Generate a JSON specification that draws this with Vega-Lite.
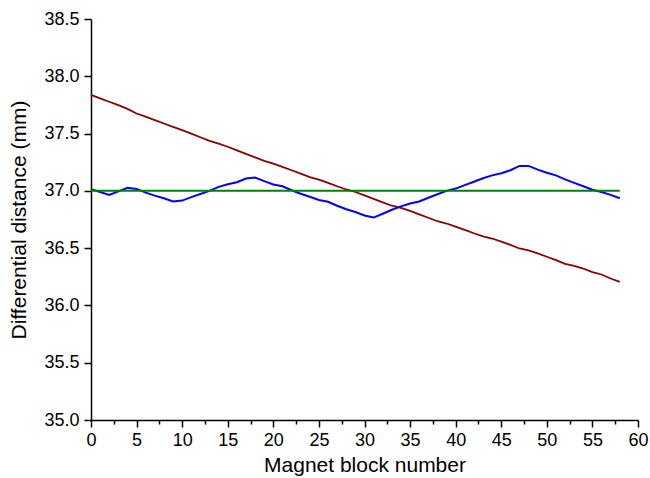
{
  "$schema": "https://vega.github.io/schema/vega-lite/v6.json",
  "width": 547,
  "height": 401,
  "autosize": {"type": "none"},
  "padding": {"left": 91, "top": 19, "right": 12, "bottom": 58},
  "background": "white",
  "config": {
    "view": {"stroke": null},
    "font": "Liberation Sans",
    "axis": {
      "grid": false,
      "domainColor": "black",
      "domainWidth": 1.5,
      "tickColor": "black",
      "tickWidth": 1.5,
      "labelColor": "black",
      "labelFont": "Liberation Sans",
      "labelFontSize": 18,
      "titleFont": "Liberation Sans",
      "titleFontSize": 21,
      "titleFontWeight": "normal",
      "titleColor": "black"
    }
  },
  "data": {
    "values": [
      {"block": 0, "red": 37.837, "blue": 37.015, "green": 37.0},
      {"block": 1, "red": 37.808, "blue": 36.99, "green": 37.0},
      {"block": 2, "red": 37.778, "blue": 36.965, "green": 37.0},
      {"block": 3, "red": 37.748, "blue": 36.995, "green": 37.0},
      {"block": 4, "red": 37.715, "blue": 37.026, "green": 37.0},
      {"block": 5, "red": 37.675, "blue": 37.017, "green": 37.0},
      {"block": 6, "red": 37.648, "blue": 36.985, "green": 37.0},
      {"block": 7, "red": 37.618, "blue": 36.958, "green": 37.0},
      {"block": 8, "red": 37.588, "blue": 36.935, "green": 37.0},
      {"block": 9, "red": 37.558, "blue": 36.907, "green": 37.0},
      {"block": 10, "red": 37.53, "blue": 36.915, "green": 37.0},
      {"block": 11, "red": 37.5, "blue": 36.945, "green": 37.0},
      {"block": 12, "red": 37.468, "blue": 36.972, "green": 37.0},
      {"block": 13, "red": 37.436, "blue": 37.0, "green": 37.0},
      {"block": 14, "red": 37.412, "blue": 37.035, "green": 37.0},
      {"block": 15, "red": 37.385, "blue": 37.058, "green": 37.0},
      {"block": 16, "red": 37.354, "blue": 37.075, "green": 37.0},
      {"block": 17, "red": 37.323, "blue": 37.108, "green": 37.0},
      {"block": 18, "red": 37.292, "blue": 37.116, "green": 37.0},
      {"block": 19, "red": 37.262, "blue": 37.085, "green": 37.0},
      {"block": 20, "red": 37.238, "blue": 37.055, "green": 37.0},
      {"block": 21, "red": 37.21, "blue": 37.04, "green": 37.0},
      {"block": 22, "red": 37.18, "blue": 37.005, "green": 37.0},
      {"block": 23, "red": 37.15, "blue": 36.975, "green": 37.0},
      {"block": 24, "red": 37.12, "blue": 36.948, "green": 37.0},
      {"block": 25, "red": 37.098, "blue": 36.92, "green": 37.0},
      {"block": 26, "red": 37.07, "blue": 36.905, "green": 37.0},
      {"block": 27, "red": 37.04, "blue": 36.87, "green": 37.0},
      {"block": 28, "red": 37.012, "blue": 36.84, "green": 37.0},
      {"block": 29, "red": 36.99, "blue": 36.815, "green": 37.0},
      {"block": 30, "red": 36.96, "blue": 36.785, "green": 37.0},
      {"block": 31, "red": 36.93, "blue": 36.767, "green": 37.0},
      {"block": 32, "red": 36.9, "blue": 36.8, "green": 37.0},
      {"block": 33, "red": 36.87, "blue": 36.835, "green": 37.0},
      {"block": 34, "red": 36.852, "blue": 36.865, "green": 37.0},
      {"block": 35, "red": 36.825, "blue": 36.89, "green": 37.0},
      {"block": 36, "red": 36.795, "blue": 36.907, "green": 37.0},
      {"block": 37, "red": 36.765, "blue": 36.94, "green": 37.0},
      {"block": 38, "red": 36.735, "blue": 36.97, "green": 37.0},
      {"block": 39, "red": 36.715, "blue": 37.0, "green": 37.0},
      {"block": 40, "red": 36.688, "blue": 37.02, "green": 37.0},
      {"block": 41, "red": 36.66, "blue": 37.05, "green": 37.0},
      {"block": 42, "red": 36.63, "blue": 37.08, "green": 37.0},
      {"block": 43, "red": 36.602, "blue": 37.11, "green": 37.0},
      {"block": 44, "red": 36.584, "blue": 37.135, "green": 37.0},
      {"block": 45, "red": 36.557, "blue": 37.154, "green": 37.0},
      {"block": 46, "red": 36.528, "blue": 37.18, "green": 37.0},
      {"block": 47, "red": 36.497, "blue": 37.218, "green": 37.0},
      {"block": 48, "red": 36.48, "blue": 37.218, "green": 37.0},
      {"block": 49, "red": 36.455, "blue": 37.185, "green": 37.0},
      {"block": 50, "red": 36.425, "blue": 37.158, "green": 37.0},
      {"block": 51, "red": 36.395, "blue": 37.135, "green": 37.0},
      {"block": 52, "red": 36.363, "blue": 37.1, "green": 37.0},
      {"block": 53, "red": 36.345, "blue": 37.07, "green": 37.0},
      {"block": 54, "red": 36.322, "blue": 37.04, "green": 37.0},
      {"block": 55, "red": 36.29, "blue": 37.01, "green": 37.0},
      {"block": 56, "red": 36.27, "blue": 36.99, "green": 37.0},
      {"block": 57, "red": 36.235, "blue": 36.965, "green": 37.0},
      {"block": 58, "red": 36.205, "blue": 36.936, "green": 37.0}
    ]
  },
  "encoding": {
    "x": {
      "field": "block",
      "type": "quantitative",
      "scale": {"domain": [0, 60], "nice": false, "zero": false},
      "axis": {
        "title": "Magnet block number",
        "values": [0, 2.5, 5, 7.5, 10, 12.5, 15, 17.5, 20, 22.5, 25, 27.5, 30, 32.5, 35, 37.5, 40, 42.5, 45, 47.5, 50, 52.5, 55, 57.5, 60],
        "tickSize": {"condition": {"test": "datum.value % 5 === 0", "value": 7}, "value": 4},
        "labelExpr": "datum.value % 5 === 0 ? format(datum.value, 'd') : ''",
        "labelPadding": 4,
        "labelFlush": false,
        "labelOverlap": false,
        "titlePadding": 5
      }
    }
  },
  "layer": [
    {
      "mark": {"type": "line", "color": "#8B0000", "strokeWidth": 1.8},
      "encoding": {
        "y": {
          "field": "red",
          "type": "quantitative",
          "scale": {"domain": [35, 38.5], "nice": false, "zero": false},
          "axis": {
            "title": "Differential distance (mm)",
            "values": [35, 35.25, 35.5, 35.75, 36, 36.25, 36.5, 36.75, 37, 37.25, 37.5, 37.75, 38, 38.25, 38.5],
            "tickSize": {"condition": {"test": "round(datum.value * 4) % 2 === 0", "value": 7}, "value": 4},
            "labelExpr": "round(datum.value * 4) % 2 === 0 ? format(datum.value, '.1f') : ''",
            "labelPadding": 5,
            "labelFlush": false,
            "labelOverlap": false,
            "titlePadding": 14
          }
        }
      }
    },
    {
      "mark": {"type": "line", "color": "#0000FF", "strokeWidth": 2},
      "encoding": {"y": {"field": "blue", "type": "quantitative"}}
    },
    {
      "mark": {"type": "line", "color": "#008000", "strokeWidth": 2},
      "encoding": {"y": {"field": "green", "type": "quantitative"}}
    }
  ]
}
